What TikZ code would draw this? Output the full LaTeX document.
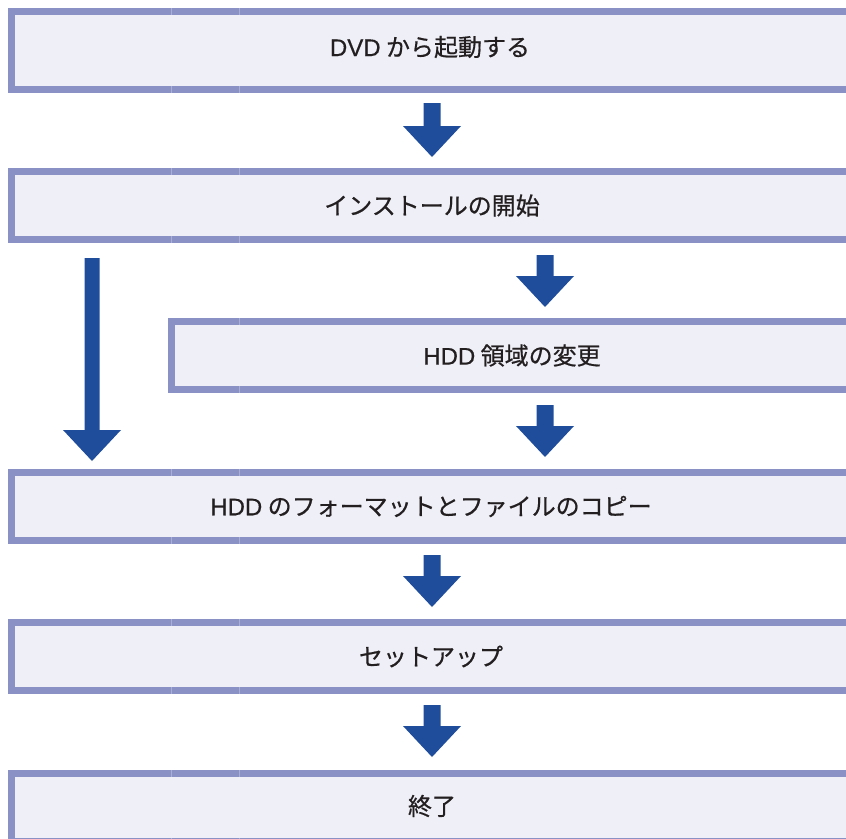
\documentclass[tikz,border=0pt]{standalone}
\usepackage{fontspec}
\setmainfont{Noto Sans CJK JP}[FakeBold=0.6]
\newfontfamily\latinf{Liberation Sans}[FakeBold=0.5]
\definecolor{barc}{HTML}{8A91C5}
\definecolor{fillc}{HTML}{EFEFF8}
\definecolor{arrc}{HTML}{1F4D9B}
\definecolor{txtc}{HTML}{231F20}
\definecolor{seamc}{HTML}{A9AED6}
\newcommand\blockarrow[3]{%
  \fill[arrc] (#1-8.5,#2) -- (#1+8.5,#2) -- (#1+8.5,#3-31) -- (#1+29,#3-31)
    -- (#1,#3) -- (#1-29,#3-31) -- (#1-8.5,#3-31) -- cycle;}
\begin{document}
\begin{tikzpicture}[x=1pt,y=-1pt,
  flowbox/.style={rectangle, fill=fillc, inner sep=0pt, anchor=north west,
    minimum width=#1, minimum height=75pt,
    path picture={
      \fill[barc] (path picture bounding box.north west) rectangle ([yshift=-7pt]path picture bounding box.north east);
      \fill[barc] (path picture bounding box.south west) rectangle ([yshift=7pt]path picture bounding box.south east);
      \fill[barc] (path picture bounding box.north west) rectangle ([xshift=7pt]path picture bounding box.south west);
    }},
  lbl/.style={text=txtc, font=\fontsize{24}{29}\selectfont, inner sep=0pt},
  seam/.style={seamc, line width=0.7pt}]
\useasboundingbox (0,0) rectangle (846,838);
% boxes
\node[flowbox=846pt, minimum height=85pt] (b1) at (8,8) {};
\node[flowbox=846pt] (b2) at (8,168) {};
\node[flowbox=686pt] (b3) at (168,318) {};
\node[flowbox=846pt] (b4) at (8,469) {};
\node[flowbox=846pt] (b5) at (8,619) {};
\node[flowbox=846pt] (b6) at (8,770) {};
% seams in bars
\foreach \yy/\hh in {8/85,168/75,469/75,619/75,770/75}{
  \draw[seam] (171,\yy) -- (171,\yy+7);
  \draw[seam] (171,\yy+\hh-7) -- (171,\yy+\hh);
  \draw[seam] (239,\yy) -- (239,\yy+7);
  \draw[seam] (239,\yy+\hh-7) -- (239,\yy+\hh);
}
\draw[seam] (239,318) -- (239,325);
\draw[seam] (239,386) -- (239,393);
% labels
\node[lbl] (t1) at (430,47) {{\latinf DVD} から起動する};
\node[lbl] (t2) at (432,205.5) {インストールの開始};
\node[lbl] (t3) at (512,355.5) {{\latinf HDD} 領域の変更};
\node[lbl] (t4) at (431,506.5) {{\latinf HDD} のフォーマットとファイルのコピー};
\node[lbl] (t5) at (431,656.5) {セットアップ};
\node[lbl] (t6) at (432,806) {終了};
% arrows
\blockarrow{432}{103}{157}
\blockarrow{545}{255}{307}
\blockarrow{545}{405}{457}
\blockarrow{432}{555}{607}
\blockarrow{432}{705}{757}
\fill[arrc] (84.5,258) -- (99.5,258) -- (99.5,430) -- (121,430) -- (92,461) -- (63,430) -- (84.5,430) -- cycle;
\end{tikzpicture}
\end{document}
